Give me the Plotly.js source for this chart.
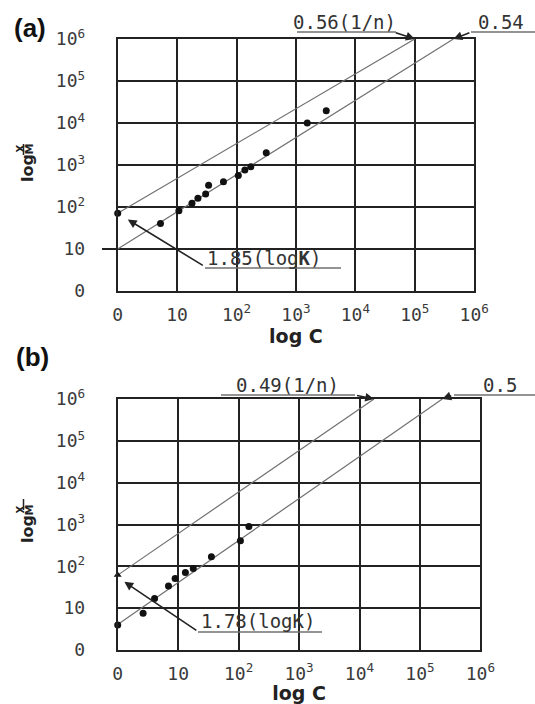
<!DOCTYPE html>
<html>
<head>
<meta charset="utf-8">
<script src="https://cdn.plot.ly/plotly-3.0.1.min.js"></script>
<style>html,body{margin:0;padding:0;background:#fff;}#chart{width:535px;height:704px;}</style>
</head>
<body>
<div id="chart"></div>
<script>
// ---- data (log units) ----
const tickVals = [0, 1, 2, 3, 4, 5, 6];
const tickText = ['0', '10', '10<sup>2</sup>', '10<sup>3</sup>', '10<sup>4</sup>', '10<sup>5</sup>', '10<sup>6</sup>'];

// panel (a)
const xA = [0, 0.72, 1.03, 1.25, 1.35, 1.48, 1.53, 1.78, 2.03, 2.14, 2.24, 2.50, 3.19, 3.51];
const yA = [1.85, 1.61, 1.91, 2.09, 2.21, 2.31, 2.52, 2.60, 2.75, 2.88, 2.96, 3.29, 4.00, 4.29];
const upperAx = [0, 5];
const upperAy = [1.85, 6];
const lowerAx = [0, 5.65];
const lowerAy = [1, 6];

// panel (b)
const xB = [0, 0.42, 0.61, 0.84, 0.95, 1.12, 1.25, 1.55, 2.03, 2.17];
const yB = [0.60, 0.88, 1.23, 1.53, 1.71, 1.85, 1.95, 2.23, 2.61, 2.95];
const interceptBx = [0];
const interceptBy = [1.79];
const upperBx = [0, 4.24];
const upperBy = [1.79, 6];
const lowerBx = [0, 5.37];
const lowerBy = [0.61, 6];

const labelsA = {slope1: '0.56(1/n)', slope2: '0.54', logK: '1.85(log<b>K</b>)'};
const labelsB = {slope1: '0.49(1/n)', slope2: '0.5', logK: '1.78(logK)'};

// ---- helpers ----
const W = 535, H = 704;
const px = x => x / W;
const py = y => 1 - y / H;
const tickFont = {family: 'DejaVu Sans Mono, monospace', size: 18, color: '#3a3a3a'};
const noteFont = {family: 'DejaVu Sans Mono, monospace', size: 19, color: '#333'};
const lineCol = '#707070';
const gridCol = '#222';

function fitLine(x, y, xa, ya) {
  return {x: x, y: y, xaxis: xa, yaxis: ya, mode: 'lines', line: {color: lineCol, width: 1.2}, hoverinfo: 'skip', showlegend: false};
}
function dots(x, y, xa, ya, sym) {
  return {x: x, y: y, xaxis: xa, yaxis: ya, mode: 'markers', marker: {color: '#111', size: 7, symbol: sym || 'circle'}, showlegend: false, cliponaxis: false};
}

const data = [
  fitLine(upperAx, upperAy, 'x', 'y'),
  fitLine(lowerAx, lowerAy, 'x', 'y'),
  dots(xA, yA, 'x', 'y'),
  fitLine(upperBx, upperBy, 'x2', 'y2'),
  fitLine(lowerBx, lowerBy, 'x2', 'y2'),
  dots(xB, yB, 'x2', 'y2'),
  dots(interceptBx, interceptBy, 'x2', 'y2', 'triangle-up')
];

function axis(domain, anchor, isX) {
  return {
    domain: domain, anchor: anchor, range: [0, 6], tickmode: 'array',
    tickvals: tickVals, ticktext: tickText, tickfont: tickFont,
    showgrid: true, gridcolor: gridCol, gridwidth: 2,
    showline: true, linecolor: gridCol, linewidth: 2, mirror: true,
    zeroline: false, ticks: '', fixedrange: true,
    ticklabelstandoff: isX ? 6 : 27
  };
}
const xTitleFont = {family: 'DejaVu Sans, Verdana, sans-serif', size: 19, color: '#222', weight: 'bold'};

const xa1 = axis([px(117.7), px(474.2)], 'y', true);
xa1.title = {text: '<b>log C</b>', font: xTitleFont, standoff: 2};
const ya1 = axis([py(291), py(39)], 'x', false);
const xa2 = axis([px(117.7), px(480.4)], 'y2', true);
xa2.title = {text: '<b>log C</b>', font: xTitleFont, standoff: 2};
const ya2 = axis([py(650), py(399)], 'x2', false);

function paperLine(x0, y0, x1, y1, col, w) {
  return {type: 'line', xref: 'paper', yref: 'paper', x0: px(x0), y0: py(y0), x1: px(x1), y1: py(y1), line: {color: col || lineCol, width: w || 1.3}};
}
const shapes = [
  paperLine(297, 32, 396, 32), paperLine(471, 32, 535, 32), paperLine(205, 268, 341, 268),
  paperLine(102, 249, 117.7, 249, gridCol, 2),
  paperLine(221, 395, 355, 395), paperLine(454, 395, 535, 395), paperLine(198, 632, 322, 632),
  // fraction bars of the y titles
  paperLine(23.5, 144, 23.5, 155, '#222', 1.5),
  paperLine(23.5, 499, 23.5, 510, '#222', 1.5)
];

function note(text, x, y) {
  return {text: text, xref: 'paper', yref: 'paper', x: px(x), y: py(y), xanchor: 'center', yanchor: 'middle', showarrow: false, font: noteFont};
}
function arrow(xr, yr, x, y, ax, ay) {
  return {text: ' ', xref: xr, yref: yr, x: x, y: y, ax: ax, ay: ay, axref: 'pixel', ayref: 'pixel', showarrow: true,
          arrowhead: 2, arrowsize: 1.1, arrowwidth: 1.6, arrowcolor: '#222', standoff: 0, font: {size: 2}};
}
const yTitleFont = {family: 'DejaVu Sans, Verdana, sans-serif', size: 16, color: '#222'};
function ylabel(cy) {
  return [
    {text: '<b>log</b>', xref: 'paper', yref: 'paper', x: px(27), y: py(cy), textangle: -90, showarrow: false, xanchor: 'center', yanchor: 'middle', font: yTitleFont},
    {text: '<b>X</b>', xref: 'paper', yref: 'paper', x: px(19.5), y: py(cy - 19), textangle: -90, showarrow: false, xanchor: 'center', yanchor: 'middle', font: {family: 'DejaVu Sans, sans-serif', size: 10, color: '#222'}},
    {text: '<b>M</b>', xref: 'paper', yref: 'paper', x: px(28.5), y: py(cy - 19), textangle: -90, showarrow: false, xanchor: 'center', yanchor: 'middle', font: {family: 'DejaVu Sans, sans-serif', size: 11, color: '#222'}}
  ];
}
const panelFont = {family: 'Liberation Sans, Arial', size: 26, color: '#111'};

const annotations = [
  {text: '<b>(a)</b>', xref: 'paper', yref: 'paper', x: px(30), y: py(28), showarrow: false, xanchor: 'center', yanchor: 'middle', font: panelFont},
  {text: '<b>(b)</b>', xref: 'paper', yref: 'paper', x: px(32), y: py(357), showarrow: false, xanchor: 'center', yanchor: 'middle', font: panelFont},
  note(labelsA.slope1, 344, 22), note(labelsA.slope2, 501, 22), note(labelsA.logK, 264, 258),
  note(labelsB.slope1, 287, 385), note(labelsB.slope2, 500, 385), note(labelsB.logK, 258, 621),
  arrow('x', 'y', 5, 6, -21, -7),
  arrow('x', 'y', 5.65, 6, 18, -7),
  arrow('x', 'y', 0.17, 1.70, 77, 47),
  arrow('x2', 'y2', 4.24, 6, -19, -4),
  arrow('x2', 'y2', 5.37, 6, 11, -4),
  arrow('x2', 'y2', 0.11, 1.63, 74, 50)
].concat(ylabel(168)).concat(ylabel(529));

const layout = {
  width: W, height: H, margin: {l: 0, r: 0, t: 0, b: 0},
  paper_bgcolor: '#fff', plot_bgcolor: '#fff', showlegend: false,
  xaxis: xa1, yaxis: ya1, xaxis2: xa2, yaxis2: ya2,
  shapes: shapes, annotations: annotations
};

Plotly.newPlot('chart', data, layout, {staticPlot: true, displayModeBar: false});
</script>
</body>
</html>
